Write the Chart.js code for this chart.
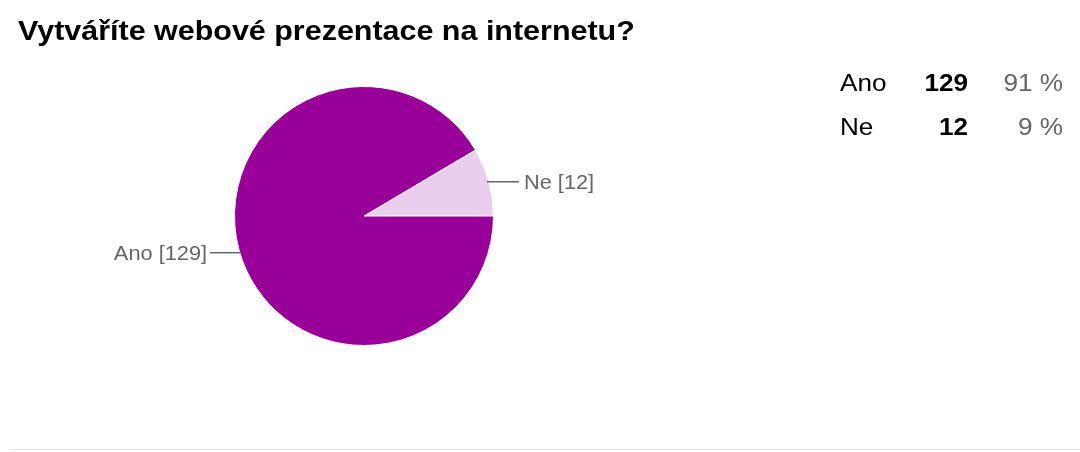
<!DOCTYPE html>
<html><head><meta charset="utf-8">
<script src="https://cdn.jsdelivr.net/npm/chart.js@4"></script>
<style>
html,body{margin:0;padding:0;background:#fff;}
#wrap{position:relative;width:1080px;height:452px;}
canvas{position:absolute;left:0;top:0;}
</style></head>
<body><div id="wrap"><canvas id="c" width="1080" height="452"></canvas></div>
<script>
const title = 'Vytváříte webové prezentace na internetu?';
const categories = ['Ne', 'Ano'];
const counts = [12, 129];
const percents = ['9 %', '91 %'];
const colors = ['#eacdef', '#990099'];
const tableOrder = [1, 0];

const total = counts.reduce((a, b) => a + b, 0);
const startDeg = 90 - counts[0] / total * 360;

const FONT = '"Liberation Sans", Arial, sans-serif';
const SX = 1.088;

function txt(ctx, s, x, y, align) {
  ctx.save();
  ctx.translate(x, y);
  ctx.scale(SX, 1);
  ctx.textAlign = align;
  ctx.fillText(s, 0, 0);
  ctx.restore();
}

const textPlugin = {
  id: 'texts',
  afterDraw(chart) {
    const ctx = chart.ctx;
    ctx.save();
    ctx.textBaseline = 'alphabetic';
    // title
    ctx.fillStyle = '#000';
    ctx.font = 'bold 28px ' + FONT;
    txt(ctx, title, 18, 40, 'left');
    // table
    tableOrder.forEach((i, r) => {
      const y = 91 + r * 44;
      ctx.font = '24px ' + FONT;
      ctx.fillStyle = '#000';
      txt(ctx, categories[i], 840, y, 'left');
      ctx.font = 'bold 24px ' + FONT;
      txt(ctx, String(counts[i]), 968, y, 'right');
      ctx.font = '24px ' + FONT;
      ctx.fillStyle = '#666';
      txt(ctx, percents[i], 1063, y, 'right');
    });
    // pie labels
    const meta = chart.getDatasetMeta(0);
    meta.data.forEach((arc, i) => {
      const mid = (arc.startAngle + arc.endAngle) / 2;
      const r = arc.outerRadius;
      const cx = arc.x, cy = arc.y;
      const right = Math.cos(mid) >= 0;
      const px = cx + Math.cos(mid) * (r - 2);
      const py = cy + Math.sin(mid) * r + (right ? 0 : 2.5);
      const ex = px + (right ? 32 : -31);
      ctx.strokeStyle = '#666';
      ctx.lineWidth = 1.5;
      ctx.beginPath();
      ctx.moveTo(px, py);
      ctx.lineTo(ex, py);
      ctx.stroke();
      ctx.font = '20px ' + FONT;
      ctx.fillStyle = '#666';
      ctx.textBaseline = 'middle';
      txt(ctx, categories[i] + ' [' + counts[i] + ']', ex + (right ? 5 : -3), py + 1.5, right ? 'left' : 'right');
    });
    // bottom rule
    ctx.fillStyle = '#e6e6e6';
    ctx.fillRect(9, 449, 1071, 1);
    ctx.restore();
  }
};

new Chart(document.getElementById('c'), {
  type: 'pie',
  data: {
    labels: categories,
    datasets: [{
      data: counts,
      backgroundColor: colors,
      borderColor: '#ffffff',
      borderWidth: 1,
      hoverOffset: 0
    }]
  },
  options: {
    responsive: false,
    animation: false,
    rotation: startDeg,
    layout: { padding: { left: 234, right: 586, top: 86, bottom: 106 } },
    plugins: { legend: { display: false }, tooltip: { enabled: false } }
  },
  plugins: [textPlugin]
});
</script></body></html>
